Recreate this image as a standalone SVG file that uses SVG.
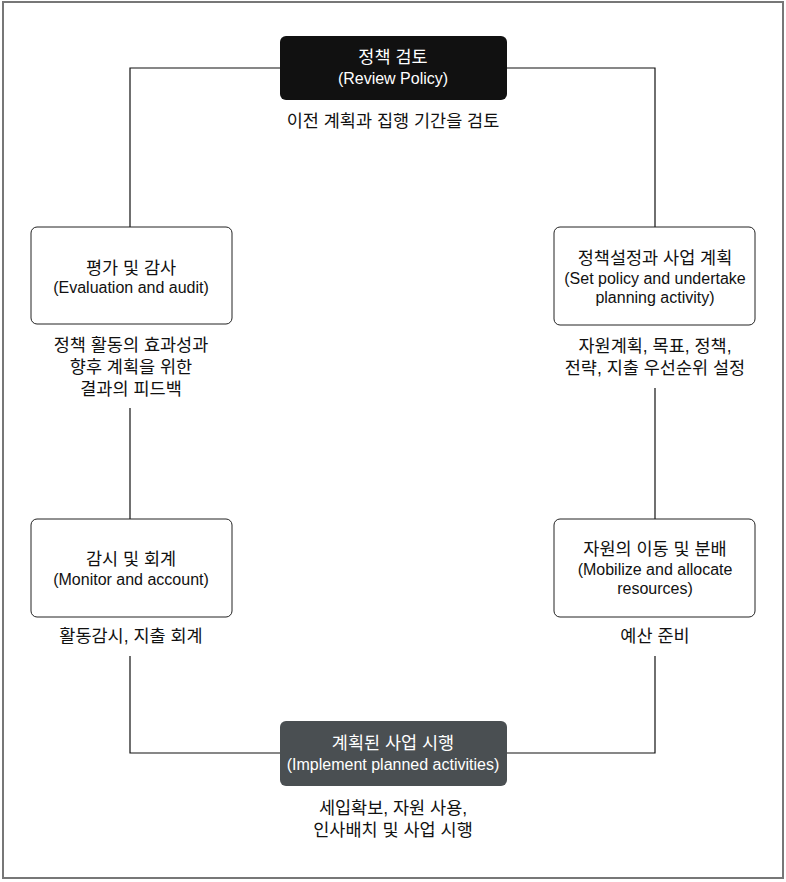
<svg xmlns="http://www.w3.org/2000/svg" width="786" height="882" viewBox="0 0 786 882">
<style>
text{font-family:"Liberation Sans","Noto Sans CJK KR",sans-serif;text-anchor:middle;dominant-baseline:central;fill:#111}
.ko{font-size:17.5px}
.en{font-size:16px}
.w{fill:#fff}
.box{fill:#fff;stroke:#222;stroke-width:1}
.line{fill:none;stroke:#111;stroke-width:1.2}
</style>
<rect x="3" y="2" width="780" height="876" fill="#fff" stroke="#777" stroke-width="2"/>
<g id="connectors">
<path class="line" d="M280,68 H130 V227"/>
<path class="line" d="M507,68 H655 V227"/>
<path class="line" d="M130,408 V519"/>
<path class="line" d="M655,388 V519"/>
<path class="line" d="M130,656 V753 H280"/>
<path class="line" d="M655,656 V753 H507"/>
</g>
<g id="review">
<rect x="280" y="36" width="227" height="64" rx="6" fill="#111"/>
<text class="ko w" x="393" y="57">정책 검토</text>
<text class="en w" x="393" y="78">(Review Policy)</text>
<text class="ko" x="393" y="121">이전 계획과 집행 기간을 검토</text>
</g>
<g id="setpolicy">
<rect class="box" x="554" y="227" width="201" height="98" rx="6"/>
<text class="ko" x="655" y="258">정책설정과 사업 계획</text>
<text class="en" x="655" y="278">(Set policy and undertake</text>
<text class="en" x="655" y="297">planning activity)</text>
<text class="ko" x="655" y="346">자원계획, 목표, 정책,</text>
<text class="ko" x="655" y="368">전략, 지출 우선순위 설정</text>
</g>
<g id="mobilize">
<rect class="box" x="554" y="519" width="201" height="98" rx="6"/>
<text class="ko" x="655" y="549">자원의 이동 및 분배</text>
<text class="en" x="655" y="569">(Mobilize and allocate</text>
<text class="en" x="655" y="588">resources)</text>
<text class="ko" x="655" y="636">예산 준비</text>
</g>
<g id="implement">
<rect x="280" y="721" width="227" height="65" rx="6" fill="#4a4f52"/>
<text class="ko w" x="393" y="743">계획된 사업 시행</text>
<text class="en w" x="393" y="764">(Implement planned activities)</text>
<text class="ko" x="393" y="808">세입확보, 자원 사용,</text>
<text class="ko" x="393" y="830">인사배치 및 사업 시행</text>
</g>
<g id="monitor">
<rect class="box" x="31" y="519" width="201" height="98" rx="6"/>
<text class="ko" x="131" y="559">감시 및 회계</text>
<text class="en" x="131" y="579">(Monitor and account)</text>
<text class="ko" x="131" y="636">활동감시, 지출 회계</text>
</g>
<g id="evaluation">
<rect class="box" x="31" y="227" width="201" height="97" rx="6"/>
<text class="ko" x="131" y="268">평가 및 감사</text>
<text class="en" x="131" y="287">(Evaluation and audit)</text>
<text class="ko" x="131" y="345">정책 활동의 효과성과</text>
<text class="ko" x="131" y="367">향후 계획을 위한</text>
<text class="ko" x="131" y="389">결과의 피드백</text>
</g>
</svg>
